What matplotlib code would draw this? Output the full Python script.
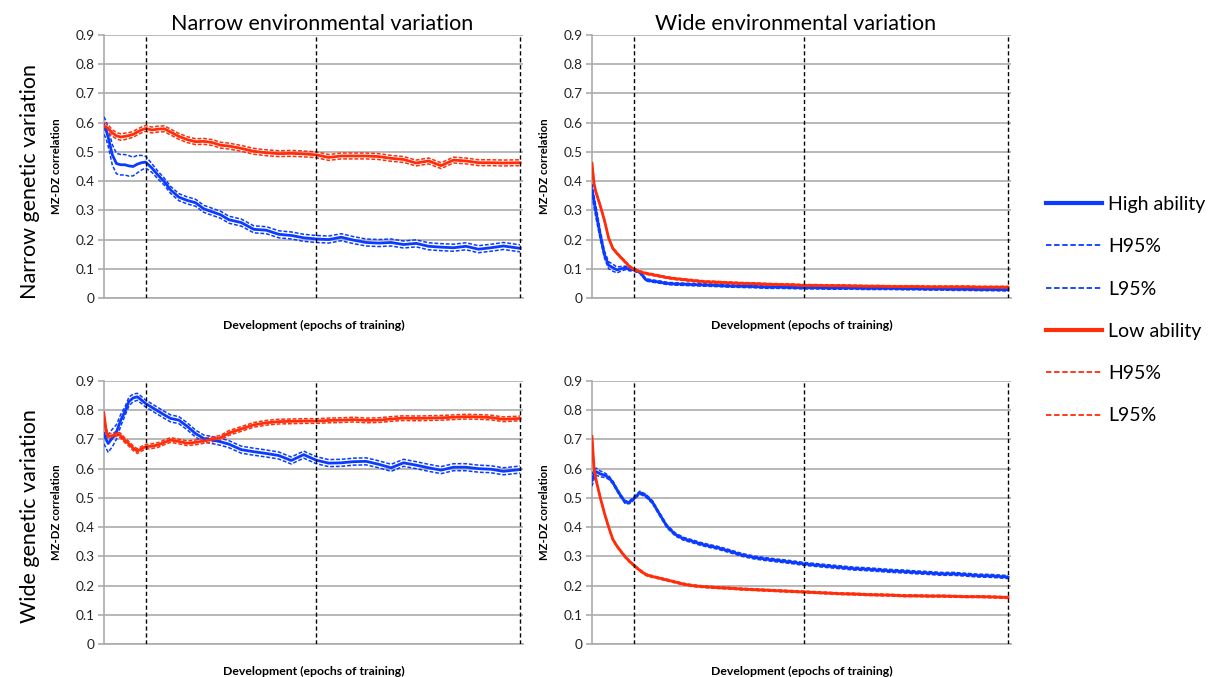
import matplotlib
matplotlib.use("Agg")
import matplotlib.pyplot as plt
from matplotlib.lines import Line2D

plt.rcParams['font.family'] = ['Lato', 'DejaVu Sans']

# ---------------- data ----------------
EPOCHS = [0, 5, 10, 20, 30, 40, 50, 60, 70, 80, 90, 100, 115, 130, 145, 160,
          180, 200, 220, 240, 260, 280, 300, 330, 360, 390, 420, 450, 480, 510,
          540, 570, 600, 630, 660, 690, 720, 750, 780, 810, 840, 870, 900, 930,
          960, 1000]

PHASES = [100, 510, 1000]          # dashed developmental markers

YTICKS = [0, 0.1, 0.2, 0.3, 0.4, 0.5, 0.6, 0.7, 0.8, 0.9]
YTICK_LABELS = ["0", "0.1", "0.2", "0.3", "0.4", "0.5", "0.6", "0.7", "0.8", "0.9"]

COL_TITLES = ["Narrow environmental variation", "Wide environmental variation"]
ROW_TITLES = ["Narrow genetic variation", "Wide genetic variation"]
Y_LABEL = "MZ-DZ correlation"
X_LABEL = "Development (epochs of training)"
LEGEND_LABELS = ["High ability", "H95%", "L95%", "Low ability", "H95%", "L95%"]

# Narrow genetic / narrow environmental (top-left)
TL_HIGH = [0.59, 0.575, 0.55, 0.49, 0.46, 0.456, 0.456, 0.452, 0.45, 0.458, 0.463, 0.465,
           0.445, 0.42, 0.398, 0.37, 0.345, 0.334, 0.326, 0.305, 0.295, 0.285, 0.268,
           0.258, 0.235, 0.232, 0.218, 0.214, 0.206, 0.202, 0.2, 0.208, 0.198, 0.19,
           0.188, 0.19, 0.183, 0.187, 0.177, 0.174, 0.172, 0.177, 0.167, 0.172, 0.178, 0.17]
TL_HIGH_CI = [0.03, 0.03, 0.03, 0.035, 0.035, 0.035, 0.035, 0.035, 0.032, 0.03, 0.025, 0.02,
              0.015, 0.013, 0.012, 0.012, 0.012, 0.012, 0.012, 0.012, 0.012, 0.012, 0.012,
              0.012, 0.012, 0.012, 0.012, 0.012, 0.012, 0.012, 0.012, 0.012, 0.012, 0.012,
              0.012, 0.012, 0.012, 0.012, 0.012, 0.012, 0.012, 0.012, 0.012, 0.012, 0.012, 0.012]
TL_LOW = [0.587, 0.585, 0.58, 0.565, 0.555, 0.551, 0.553, 0.556, 0.56, 0.568, 0.575, 0.58,
          0.575, 0.578, 0.579, 0.568, 0.553, 0.542, 0.535, 0.536, 0.532, 0.523, 0.52,
          0.512, 0.502, 0.497, 0.494, 0.495, 0.493, 0.49, 0.481, 0.486, 0.486, 0.486,
          0.484, 0.478, 0.474, 0.462, 0.469, 0.453, 0.472, 0.469, 0.463, 0.463, 0.462, 0.463]
TL_LOW_CI = [0.012, 0.012, 0.012, 0.011, 0.011, 0.011, 0.011, 0.01, 0.01, 0.01, 0.01, 0.01,
             0.01, 0.01, 0.01, 0.01, 0.01, 0.01, 0.01, 0.01, 0.01, 0.01, 0.01, 0.01, 0.01,
             0.01, 0.01, 0.01, 0.01, 0.01, 0.01, 0.01, 0.01, 0.01, 0.01, 0.01, 0.01, 0.01,
             0.01, 0.01, 0.01, 0.01, 0.01, 0.01, 0.01, 0.01]

# Narrow genetic / wide environmental (top-right)
TR_HIGH = [0.37, 0.33, 0.29, 0.215, 0.148, 0.112, 0.104, 0.096, 0.1, 0.103, 0.098, 0.097,
           0.088, 0.062, 0.058, 0.055, 0.05, 0.048, 0.047, 0.046, 0.045, 0.044, 0.043,
           0.041, 0.04, 0.039, 0.037, 0.037, 0.036, 0.035, 0.035, 0.034, 0.034, 0.034,
           0.033, 0.033, 0.033, 0.032, 0.032, 0.031, 0.031, 0.03, 0.03, 0.029, 0.029, 0.028]
TR_HIGH_CI = [0.02, 0.02, 0.02, 0.015, 0.012, 0.012, 0.012, 0.01, 0.008, 0.006, 0.005, 0.005,
              0.004, 0.004, 0.004, 0.004, 0.004, 0.004, 0.004, 0.004, 0.004, 0.004, 0.004,
              0.004, 0.004, 0.004, 0.004, 0.004, 0.004, 0.004, 0.004, 0.004, 0.004, 0.004,
              0.004, 0.004, 0.004, 0.004, 0.004, 0.004, 0.004, 0.004, 0.004, 0.004, 0.004, 0.004]
TR_LOW = [0.46, 0.39, 0.36, 0.315, 0.265, 0.205, 0.17, 0.153, 0.138, 0.123, 0.108, 0.098,
          0.09, 0.084, 0.08, 0.076, 0.07, 0.066, 0.063, 0.06, 0.057, 0.055, 0.054, 0.052,
          0.05, 0.049, 0.047, 0.046, 0.045, 0.043, 0.043, 0.042, 0.042, 0.041, 0.04, 0.04,
          0.039, 0.039, 0.039, 0.038, 0.038, 0.038, 0.038, 0.037, 0.037, 0.037]
TR_LOW_CI = [0.006, 0.005, 0.004, 0.003, 0.003, 0.003, 0.003, 0.003, 0.003, 0.003, 0.003,
             0.003, 0.003, 0.003, 0.003, 0.003, 0.003, 0.003, 0.003, 0.003, 0.003, 0.003,
             0.003, 0.003, 0.003, 0.003, 0.003, 0.003, 0.003, 0.003, 0.003, 0.003, 0.003,
             0.003, 0.003, 0.003, 0.003, 0.003, 0.003, 0.003, 0.003, 0.003, 0.003, 0.003,
             0.003, 0.003]

# Wide genetic / narrow environmental (bottom-left)
BL_HIGH = [0.72, 0.7, 0.686, 0.705, 0.726, 0.765, 0.795, 0.83, 0.842, 0.846, 0.835, 0.823,
           0.81, 0.797, 0.784, 0.772, 0.766, 0.745, 0.72, 0.703, 0.698, 0.692, 0.684,
           0.665, 0.658, 0.652, 0.645, 0.628, 0.648, 0.629, 0.619, 0.62, 0.624, 0.625,
           0.615, 0.603, 0.62, 0.612, 0.603, 0.595, 0.605, 0.605, 0.6, 0.598, 0.591, 0.597]
BL_HIGH_CI = [0.035, 0.03, 0.03, 0.03, 0.025, 0.02, 0.015, 0.015, 0.013, 0.012, 0.012,
              0.012, 0.012, 0.012, 0.012, 0.012, 0.012, 0.012, 0.012, 0.012, 0.012, 0.012,
              0.012, 0.012, 0.012, 0.012, 0.012, 0.012, 0.012, 0.012, 0.012, 0.012, 0.012,
              0.012, 0.012, 0.012, 0.012, 0.012, 0.012, 0.012, 0.012, 0.012, 0.012, 0.012,
              0.012, 0.012]
BL_LOW = [0.785, 0.73, 0.71, 0.712, 0.72, 0.713, 0.697, 0.685, 0.67, 0.66, 0.668, 0.675,
          0.677, 0.681, 0.69, 0.698, 0.693, 0.687, 0.69, 0.695, 0.7, 0.706, 0.722, 0.736,
          0.75, 0.757, 0.761, 0.762, 0.763, 0.763, 0.765, 0.766, 0.768, 0.765, 0.766, 0.77,
          0.773, 0.772, 0.773, 0.774, 0.776, 0.778, 0.777, 0.775, 0.769, 0.772]
BL_LOW_CI = [0.012, 0.01, 0.01, 0.008, 0.008, 0.008, 0.008, 0.008, 0.008, 0.008, 0.008,
             0.008, 0.008, 0.008, 0.008, 0.008, 0.008, 0.008, 0.008, 0.008, 0.008, 0.008,
             0.008, 0.008, 0.008, 0.008, 0.008, 0.008, 0.008, 0.008, 0.008, 0.008, 0.008,
             0.008, 0.008, 0.008, 0.008, 0.008, 0.008, 0.008, 0.008, 0.008, 0.008, 0.008,
             0.008, 0.008]

# Wide genetic / wide environmental (bottom-right)
BR_HIGH = [0.56, 0.58, 0.59, 0.582, 0.578, 0.57, 0.553, 0.528, 0.505, 0.485, 0.485, 0.497,
           0.518, 0.507, 0.486, 0.45, 0.403, 0.375, 0.36, 0.352, 0.343, 0.336, 0.33, 0.318,
           0.305, 0.296, 0.29, 0.285, 0.28, 0.274, 0.27, 0.266, 0.262, 0.258, 0.256, 0.253,
           0.25, 0.248, 0.245, 0.243, 0.24, 0.24, 0.237, 0.234, 0.233, 0.229]
BR_HIGH_CI = [0.02, 0.015, 0.012, 0.01, 0.008, 0.006, 0.005, 0.005, 0.005, 0.005, 0.005,
              0.005, 0.005, 0.005, 0.005, 0.005, 0.005, 0.005, 0.005, 0.005, 0.005, 0.005,
              0.005, 0.005, 0.005, 0.005, 0.005, 0.005, 0.005, 0.005, 0.005, 0.005, 0.005,
              0.005, 0.005, 0.005, 0.005, 0.005, 0.005, 0.005, 0.005, 0.005, 0.005, 0.005,
              0.005, 0.005]
BR_LOW = [0.71, 0.6, 0.56, 0.5, 0.447, 0.4, 0.358, 0.335, 0.316, 0.298, 0.283, 0.27, 0.252,
          0.237, 0.231, 0.226, 0.219, 0.212, 0.205, 0.2, 0.197, 0.195, 0.193, 0.191, 0.188,
          0.186, 0.184, 0.182, 0.18, 0.178, 0.176, 0.174, 0.172, 0.171, 0.169, 0.168, 0.167,
          0.165, 0.165, 0.164, 0.164, 0.163, 0.162, 0.162, 0.161, 0.159]
BR_LOW_CI = [0.004, 0.003, 0.003, 0.003, 0.003, 0.003, 0.003, 0.003, 0.003, 0.003, 0.003,
             0.003, 0.003, 0.003, 0.003, 0.003, 0.003, 0.003, 0.003, 0.003, 0.003, 0.003,
             0.003, 0.003, 0.003, 0.003, 0.003, 0.003, 0.003, 0.003, 0.003, 0.003, 0.003,
             0.003, 0.003, 0.003, 0.003, 0.003, 0.003, 0.003, 0.003, 0.003, 0.003, 0.003,
             0.003, 0.003]

# ---------------- styling ----------------
BLUE = "#0B3BFF"
RED = "#FF2D0A"
GRID = "#ABABAB"

W, H = 1218, 677
fig = plt.figure(figsize=(W / 100, H / 100), dpi=100)

def px_axes(left, top, right, bottom):
    return [left / W, 1 - bottom / H, (right - left) / W, (bottom - top) / H]

AX_RECTS = [
    [px_axes(104, 35, 523, 298), px_axes(592, 35, 1011, 298)],
    [px_axes(104, 381, 523, 644), px_axes(592, 381, 1011, 644)],
]

PANELS = [
    [(TL_HIGH, TL_HIGH_CI, TL_LOW, TL_LOW_CI), (TR_HIGH, TR_HIGH_CI, TR_LOW, TR_LOW_CI)],
    [(BL_HIGH, BL_HIGH_CI, BL_LOW, BL_LOW_CI), (BR_HIGH, BR_HIGH_CI, BR_LOW, BR_LOW_CI)],
]

def draw_series(ax, mean, ci, color):
    hi = [m + c for m, c in zip(mean, ci)]
    lo = [m - c for m, c in zip(mean, ci)]
    ax.plot(EPOCHS, hi, color=color, lw=1.1, ls=(0, (2.5, 1.2)), zorder=4)
    ax.plot(EPOCHS, lo, color=color, lw=1.1, ls=(0, (2.5, 1.2)), zorder=4)
    ax.plot(EPOCHS, mean, color=color, lw=2.0, zorder=5)

for r in range(2):
    for c in range(2):
        ax = fig.add_axes(AX_RECTS[r][c])
        high, high_ci, low, low_ci = PANELS[r][c]
        draw_series(ax, high, high_ci, BLUE)
        draw_series(ax, low, low_ci, RED)
        for p in PHASES:
            ax.axvline(p, color="black", lw=1.0, ls=(0, (3, 2)), zorder=6)
        ax.set_xlim(0, 1007)
        ax.set_ylim(0, 0.9)
        ax.set_yticks(YTICKS)
        ax.set_yticklabels(YTICK_LABELS, fontsize=9.8, color="#222222")
        ax.set_xticks([])
        ax.yaxis.grid(True, color=GRID, lw=1.2, zorder=0)
        ax.set_axisbelow(True)
        for s in ["top", "right"]:
            ax.spines[s].set_visible(False)
        for s in ["left", "bottom"]:
            ax.spines[s].set_color(GRID)
            ax.spines[s].set_linewidth(1.2)
        ax.tick_params(axis="y", length=4, width=1.2, color=GRID, pad=3)
        ax.set_ylabel(Y_LABEL, fontsize=8.2, fontweight="bold")
        ax.yaxis.set_label_coords(-0.1, 0.5)
        ax.set_xlabel(X_LABEL, fontsize=8.8, fontweight="bold")
        ax.xaxis.set_label_coords(0.5, -0.085)

fig.text(322 / W, 1 - 24 / H, COL_TITLES[0], fontsize=15.5, ha="center", va="center")
fig.text(796 / W, 1 - 24 / H, COL_TITLES[1], fontsize=15.5, ha="center", va="center")
fig.text(30 / W, 1 - 182 / H, ROW_TITLES[0], fontsize=15.5, ha="center", va="center", rotation=90)
fig.text(30 / W, 1 - 516 / H, ROW_TITLES[1], fontsize=15.5, ha="center", va="center", rotation=90)

handles = [
    Line2D([], [], color=BLUE, lw=3),
    Line2D([], [], color=BLUE, lw=1.3, ls=(0, (3, 1.5))),
    Line2D([], [], color=BLUE, lw=1.3, ls=(0, (3, 1.5))),
    Line2D([], [], color=RED, lw=3),
    Line2D([], [], color=RED, lw=1.3, ls=(0, (3, 1.5))),
    Line2D([], [], color=RED, lw=1.3, ls=(0, (3, 1.5))),
]
fig.legend(handles, LEGEND_LABELS, loc="upper left", bbox_to_anchor=(1046 / W, 1 - 196 / H),
           frameon=False, fontsize=14, handlelength=2.9, handletextpad=0.3,
           labelspacing=1.3, borderpad=0, borderaxespad=0)

fig.savefig("out.png", dpi=100)
